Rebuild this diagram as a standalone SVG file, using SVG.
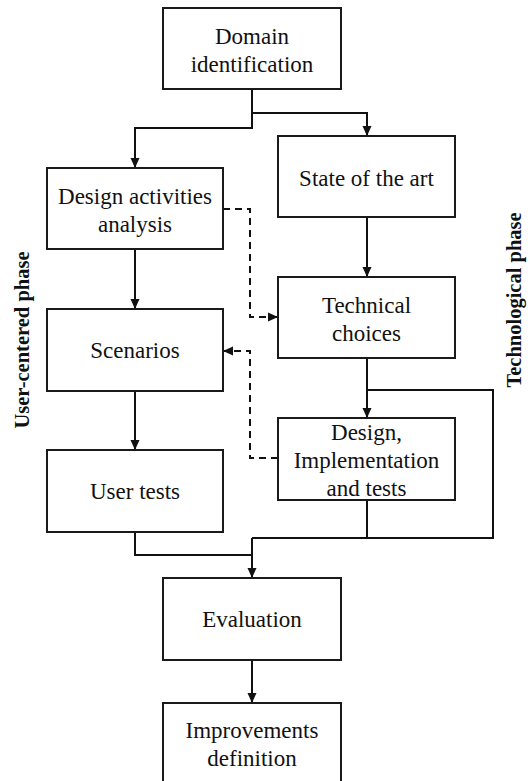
<svg xmlns="http://www.w3.org/2000/svg" width="530" height="781" viewBox="0 0 530 781">
  <style>
    .box { fill: #ffffff; stroke: #1a1a1a; stroke-width: 2; }
    .lbl { font-size: 23px; fill: #111111; text-anchor: middle; }
    .phase { font-size: 20.5px; font-weight: bold; fill: #111111; text-anchor: middle; }
    .wire { fill: none; stroke: #111111; stroke-width: 2; }
    .dash { fill: none; stroke: #111111; stroke-width: 2; stroke-dasharray: 7 5; }
  </style>
  <defs>
    <marker id="arrow" markerUnits="userSpaceOnUse" markerWidth="10" markerHeight="10" viewBox="0 0 10 10" refX="10" refY="5" orient="auto">
      <path d="M0,0.5 L10,5 L0,9.5 Z" fill="#111111"/>
    </marker>
  </defs>

  <rect width="530" height="781" fill="#ffffff"/>

  <!-- connectors -->
  <g id="connectors">
    <path class="wire" d="M252,89 V128 H135 V168" marker-end="url(#arrow)"/>
    <path class="wire" d="M252,113 H367 V136" marker-end="url(#arrow)"/>
    <path class="wire" d="M135,249 V309" marker-end="url(#arrow)"/>
    <path class="wire" d="M135,391 V450" marker-end="url(#arrow)"/>
    <path class="wire" d="M367,217 V277" marker-end="url(#arrow)"/>
    <path class="wire" d="M367,358 V418" marker-end="url(#arrow)"/>
    <path class="wire" d="M367,390 H493 V538 H252"/>
    <path class="wire" d="M367,500 V538"/>
    <path class="wire" d="M135,532 V555 H252"/>
    <path class="wire" d="M252,538 V578" marker-end="url(#arrow)"/>
    <path class="wire" d="M252,660 V703" marker-end="url(#arrow)"/>
    <path class="dash" d="M223,209 H250 V317 H278" marker-end="url(#arrow)"/>
    <path class="dash" d="M278,458 H250 V351 H223" marker-end="url(#arrow)"/>
  </g>

  <g font-family="'Liberation Serif', 'DejaVu Serif', serif">
    <g id="domain">
      <rect class="box" x="163" y="8" width="178" height="81"/>
      <text class="lbl" x="252" y="44">Domain</text>
      <text class="lbl" x="252" y="72">identification</text>
    </g>

    <g id="design-activities">
      <rect class="box" x="47" y="168" width="176" height="81"/>
      <text class="lbl" x="135" y="204">Design activities</text>
      <text class="lbl" x="135" y="232">analysis</text>
    </g>

    <g id="state-of-art">
      <rect class="box" x="278" y="136" width="177" height="81"/>
      <text class="lbl" x="366.5" y="186">State of the art</text>
    </g>

    <g id="technical-choices">
      <rect class="box" x="278" y="277" width="177" height="81"/>
      <text class="lbl" x="366.5" y="313">Technical</text>
      <text class="lbl" x="366.5" y="341">choices</text>
    </g>

    <g id="scenarios">
      <rect class="box" x="47" y="309" width="176" height="82"/>
      <text class="lbl" x="135" y="358">Scenarios</text>
    </g>

    <g id="design-impl">
      <rect class="box" x="278" y="418" width="177" height="82"/>
      <text class="lbl" x="366.5" y="440">Design,</text>
      <text class="lbl" x="366.5" y="468">Implementation</text>
      <text class="lbl" x="366.5" y="496">and tests</text>
    </g>

    <g id="user-tests">
      <rect class="box" x="47" y="450" width="176" height="82"/>
      <text class="lbl" x="135" y="499">User tests</text>
    </g>

    <g id="evaluation">
      <rect class="box" x="163" y="578" width="178" height="82"/>
      <text class="lbl" x="252" y="627">Evaluation</text>
    </g>

    <g id="improvements">
      <rect class="box" x="163" y="703" width="178" height="82"/>
      <text class="lbl" x="252" y="738">Improvements</text>
      <text class="lbl" x="252" y="766">definition</text>
    </g>

    <g id="phase-labels">
      <text class="phase" transform="translate(29,340) rotate(-90)">User-centered phase</text>
      <text class="phase" transform="translate(521,300) rotate(-90)">Technological phase</text>
    </g>
  </g>
</svg>
